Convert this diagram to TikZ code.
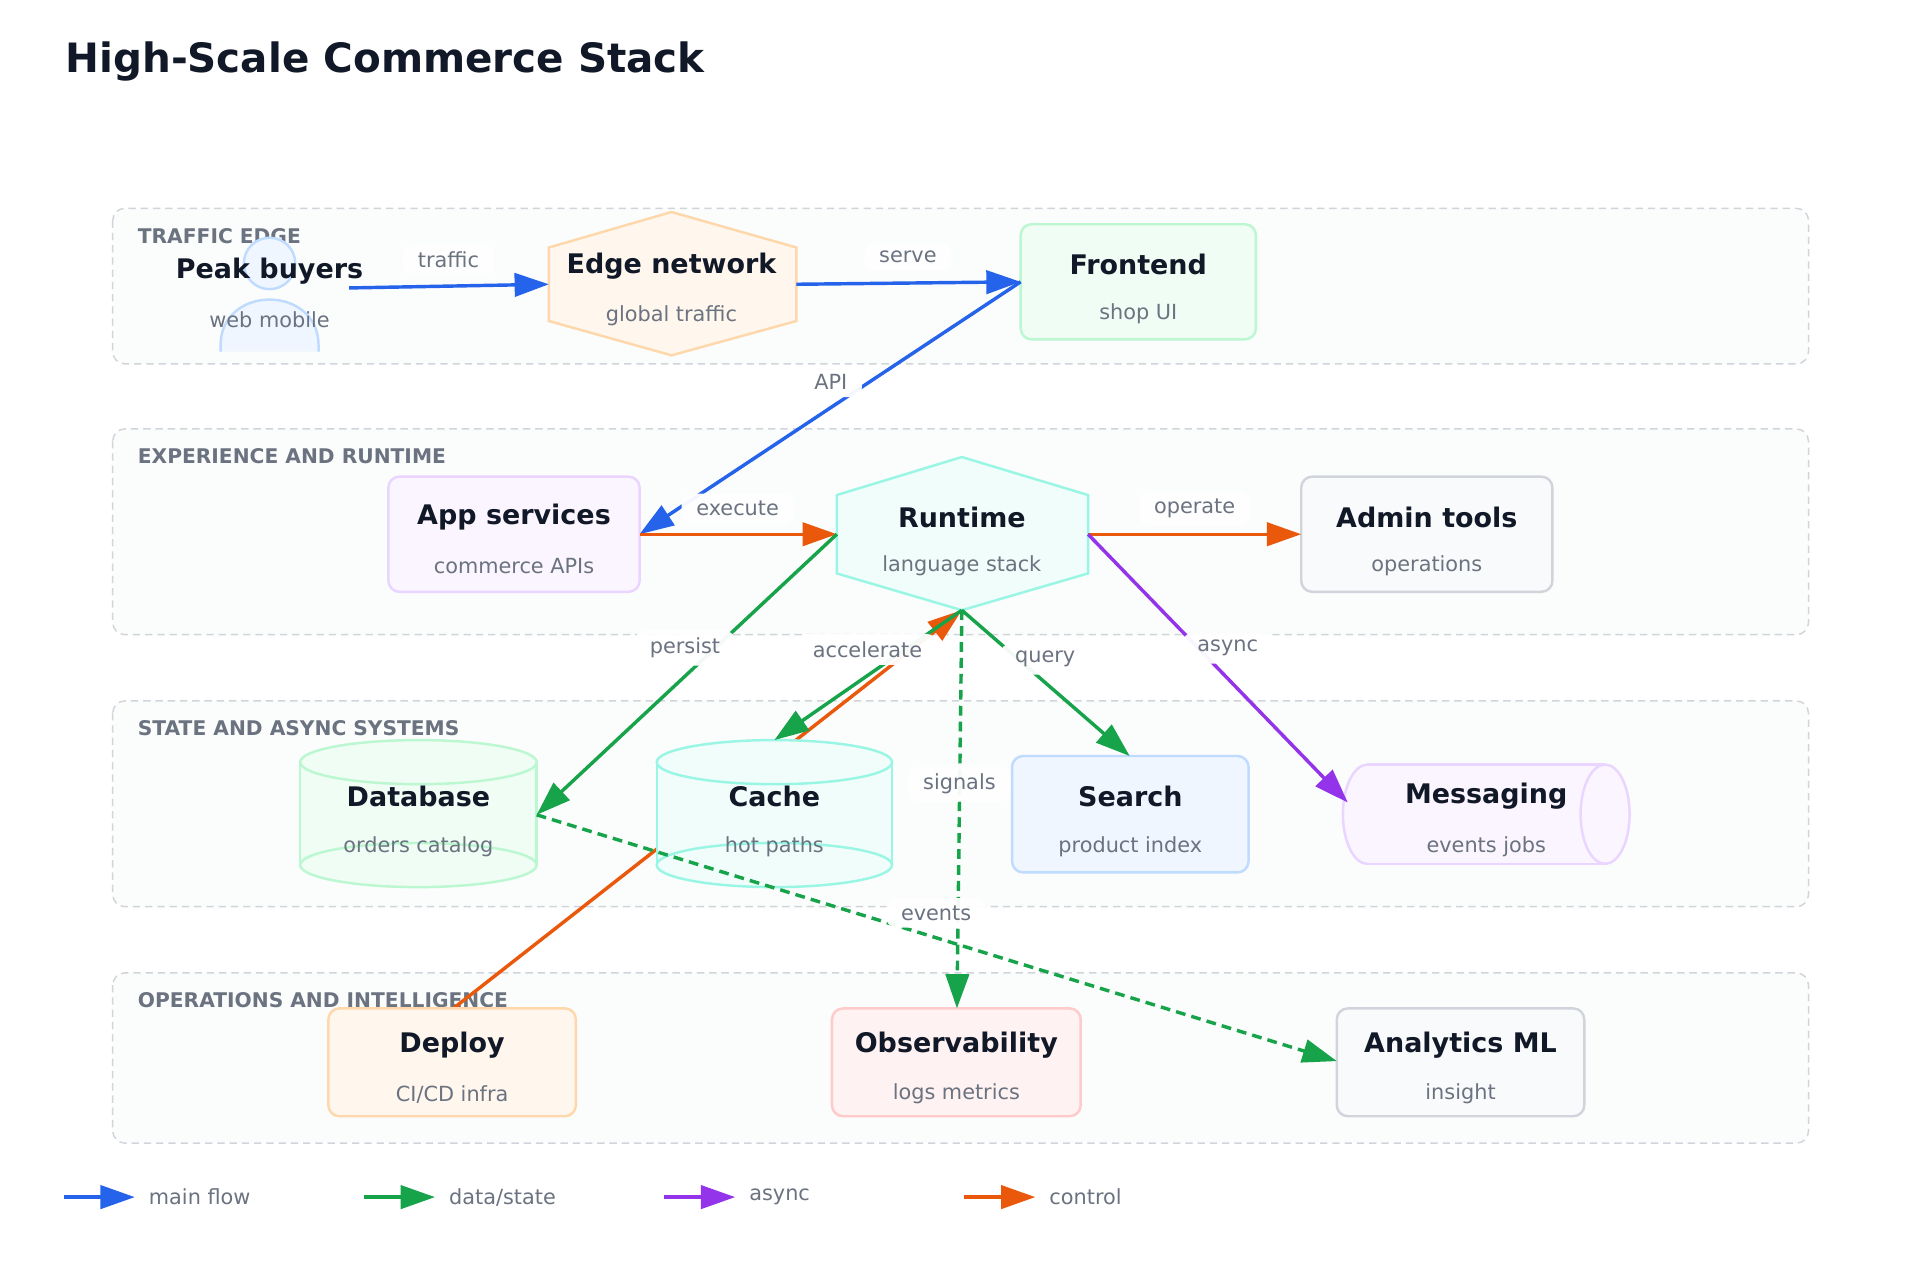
\documentclass[tikz,border=0pt]{standalone}
\usepackage{fontspec}
\setmainfont{DejaVu Sans}
\usetikzlibrary{arrows.meta}
\definecolor{cblue}{HTML}{2563EB}
\definecolor{cgreen}{HTML}{16A34A}
\definecolor{cpurple}{HTML}{9333EA}
\definecolor{corange}{HTML}{EA580C}
\definecolor{tdark}{HTML}{111827}
\definecolor{tgray}{HTML}{6B7280}
\definecolor{lanefill}{HTML}{FBFCFC}
\definecolor{lanedraw}{HTML}{D1D5DB}
\definecolor{sgreen}{HTML}{BBF7D0}\definecolor{fgreen}{HTML}{F0FDF4}
\definecolor{steal}{HTML}{99F6E4}\definecolor{fteal}{HTML}{F0FDFA}
\definecolor{sorange}{HTML}{FED7AA}\definecolor{forange}{HTML}{FFF7ED}
\definecolor{sviolet}{HTML}{E9D5FF}\definecolor{fviolet}{HTML}{FAF5FF}
\definecolor{sblue}{HTML}{BFDBFE}\definecolor{fblue}{HTML}{EFF6FF}
\definecolor{sred}{HTML}{FECACA}\definecolor{fred}{HTML}{FEF2F2}
\definecolor{sgray}{HTML}{D1D5DB}\definecolor{fgray}{HTML}{F9FAFB}
\begin{document}
\begin{tikzpicture}[x=1pt,y=-1pt,
 lane/.style={draw=lanedraw,fill=lanefill,dashed,dash pattern=on 6pt off 4pt,line width=1.2pt,rounded corners=10pt},
 lanelbl/.style={anchor=west,text=tgray,font=\fontsize{16.5}{19}\selectfont\bfseries},
 box/.style={draw,line width=2pt,rounded corners=9pt,minimum width=#1,minimum height=94pt,inner sep=0pt},
 ttl/.style={text=tdark,font=\fontsize{22}{25}\selectfont\bfseries},
 sub/.style={text=tgray,font=\fontsize{17}{20}\selectfont},
 shp/.style={line width=2pt},
 lbl/.style={text=tgray,font=\fontsize{17}{20}\selectfont,fill=white,fill opacity=0.95,text opacity=1,rounded corners=8pt,inner xsep=12pt,inner ysep=6pt},
 arr/.style={line width=2.8pt,-{Triangle[length=28pt,width=19pt]}},
 mainf/.style={arr,draw=cblue},
 dataf/.style={arr,draw=cgreen},
 asyncf/.style={arr,draw=cpurple},
 ctrlf/.style={arr,draw=corange},
 dsh/.style={dash pattern=on 8pt off 5pt}]
\useasboundingbox[fill=white] (0,0) rectangle (1567,1045);
\node[anchor=west,text=tdark,font=\fontsize{33}{37}\selectfont\bfseries] (title) at (50,50) {High-Scale Commerce Stack};
% lanes
\draw[lane] (92,170) rectangle (1476,297);
\draw[lane] (92,350) rectangle (1476,518);
\draw[lane] (92,572) rectangle (1476,740);
\draw[lane] (92,794) rectangle (1476,933);
\node[lanelbl] (l1) at (109,193) {TRAFFIC EDGE};
\node[lanelbl] (l2) at (109,372) {EXPERIENCE AND RUNTIME};
\node[lanelbl] (l3) at (109,594) {STATE AND ASYNC SYSTEMS};
\node[lanelbl] (l4) at (109,816) {OPERATIONS AND INTELLIGENCE};
% coordinates
\coordinate (pbE) at (285,235);
\coordinate (edgeW) at (448,232);
\coordinate (edgeE) at (650,232);
\coordinate (feW) at (833,230);
\coordinate (appE) at (522,436);
\coordinate (rtW) at (683,436);
\coordinate (rtE) at (888,436);
\coordinate (rtS) at (785,498);
\coordinate (admW) at (1062,436);
\coordinate (dbE) at (438,665);
\coordinate (cacheN) at (632,604);
\coordinate (srN) at (922,617);
\coordinate (msgW) at (1100,655);
\coordinate (depN) at (370,823);
\coordinate (obsN) at (781,823);
\coordinate (anW) at (1091,866);
% control edge behind cache
\draw[ctrlf] (depN) -- (rtS);
% person
\draw[shp,draw=sblue,fill=fblue] (180,287) -- (180,282) .. controls (180,232) and (260,232) .. (260,282) -- (260,287);
\draw[shp,draw=sblue,fill=fblue] (220,215) circle[radius=21];
\node[ttl] (pb) at (220,221) {Peak buyers};
\node[sub] (pbs) at (220,261) {web mobile};
% edge network
\draw[shp,draw=sorange,fill=forange] (548,173) -- (650,202) -- (650,262) -- (548,290) -- (448,262) -- (448,202) -- cycle;
\node[ttl] (edge) at (548,217) {Edge network};
\node[sub] (edges) at (548,258) {global traffic};
% frontend
\node[box=192pt,draw=sgreen,fill=fgreen] (fe) at (929,230) {};
\node[ttl] at (929,216) {Frontend};
\node[sub] at (929,256) {shop UI};
% app services
\node[box=205pt,draw=sviolet,fill=fviolet] (app) at (419.5,436) {};
\node[ttl] at (419.5,422) {App services};
\node[sub] at (419.5,462) {commerce APIs};
% runtime
\draw[shp,draw=steal,fill=fteal] (785,373) -- (888,404) -- (888,468) -- (785,498) -- (683,468) -- (683,404) -- cycle;
\node[ttl] (rt) at (785,422) {Runtime};
\node[sub] at (785,462) {language stack};
% admin
\node[box=205pt,draw=sgray,fill=fgray] (adm) at (1164.5,436) {};
\node[ttl] at (1164.5,422) {Admin tools};
\node[sub] at (1164.5,462) {operations};
% database
\fill[fgreen] (245,622) rectangle (438,706);
\draw[shp,draw=sgreen,fill=fgreen] (341.5,706) ellipse[x radius=96.5,y radius=18];
\draw[shp,draw=sgreen,fill=fgreen] (341.5,622) ellipse[x radius=96.5,y radius=18];
\draw[shp,draw=sgreen] (245,622) -- (245,706) (438,622) -- (438,706);
\node[ttl] (db) at (341.5,650) {Database};
\node[sub] at (341.5,691) {orders catalog};
% cache
\fill[fteal] (536,622) rectangle (728,706);
\draw[shp,draw=steal,fill=fteal] (632,706) ellipse[x radius=96,y radius=18];
\draw[shp,draw=steal,fill=fteal] (632,622) ellipse[x radius=96,y radius=18];
\draw[shp,draw=steal] (536,622) -- (536,706) (728,622) -- (728,706);
\node[ttl] (cache) at (632,650) {Cache};
\node[sub] at (632,691) {hot paths};
% search
\node[box=193pt,minimum height=95pt,draw=sblue,fill=fblue] (sr) at (922.5,664.5) {};
\node[ttl] at (922.5,650) {Search};
\node[sub] at (922.5,691) {product index};
% messaging
\draw[shp,draw=sviolet,fill=fviolet] (1116,664.5) ellipse[x radius=20,y radius=40.5];
\fill[fviolet] (1116,624) rectangle (1310,705);
\draw[shp,draw=sviolet] (1116,624) -- (1310,624) (1116,705) -- (1310,705);
\draw[shp,draw=sviolet,fill=fviolet] (1310,664.5) ellipse[x radius=20,y radius=40.5];
\node[ttl] (msg) at (1213,650) {Messaging};
\node[sub] at (1213,691) {events jobs};
% deploy
\node[box=202pt,minimum height=88pt,draw=sorange,fill=forange] (dep) at (369,867) {};
\node[ttl] at (369,853) {Deploy};
\node[sub] at (369,893) {CI/CD infra};
% observability
\node[box=203pt,minimum height=88pt,draw=sred,fill=fred] (obs) at (780.5,867) {};
\node[ttl] at (780.5,853) {Observability};
\node[sub] at (780.5,893) {logs metrics};
% analytics
\node[box=202pt,minimum height=88pt,draw=sgray,fill=fgray] (an) at (1192,867) {};
\node[ttl] at (1192,853) {Analytics ML};
\node[sub] at (1192,893) {insight};
% edges
\draw[mainf] (pbE) -- (edgeW);
\draw[mainf] (edgeE) -- (feW);
\draw[mainf] (feW) -- (appE);
\draw[ctrlf] (appE) -- (rtW);
\draw[ctrlf] (rtE) -- (admW);
\draw[dataf] (rtW) -- (dbE);
\draw[dataf] (rtS) -- (cacheN);
\draw[dataf] (rtS) -- (srN);
\draw[asyncf] (rtE) -- (msgW);
\draw[dataf,dsh] (rtS) -- (obsN);
\draw[dataf,dsh] (dbE) -- (anW);
% labels
\node[lbl] at (366,212) {traffic};
\node[lbl] at (741,210) {serve};
\node[lbl] at (678,312) {API};
\node[lbl] at (602,415) {execute};
\node[lbl] at (975,415) {operate};
\node[lbl] at (559,529) {persist};
\node[lbl] at (708,530) {accelerate};
\node[lbl] at (853,538) {query};
\node[lbl] at (1002,529) {async};
\node[lbl] at (783,640) {signals};
\node[lbl] at (764,745) {events};
% legend
\coordinate (g1a) at (52,977); \coordinate (g1b) at (110,977);
\coordinate (g2a) at (297,977); \coordinate (g2b) at (355,977);
\coordinate (g3a) at (542,977); \coordinate (g3b) at (600,977);
\coordinate (g4a) at (787,977); \coordinate (g4b) at (845,977);
\draw[mainf] (g1a) -- (g1b);
\draw[dataf] (g2a) -- (g2b);
\draw[asyncf] (g3a) -- (g3b);
\draw[ctrlf] (g4a) -- (g4b);
\node[sub,anchor=west] at (118,977) {main flow};
\node[sub,anchor=west] at (363,977) {data/state};
\node[sub,anchor=west] at (608,977) {async};
\node[sub,anchor=west] at (853,977) {control};
\end{tikzpicture}
\end{document}
